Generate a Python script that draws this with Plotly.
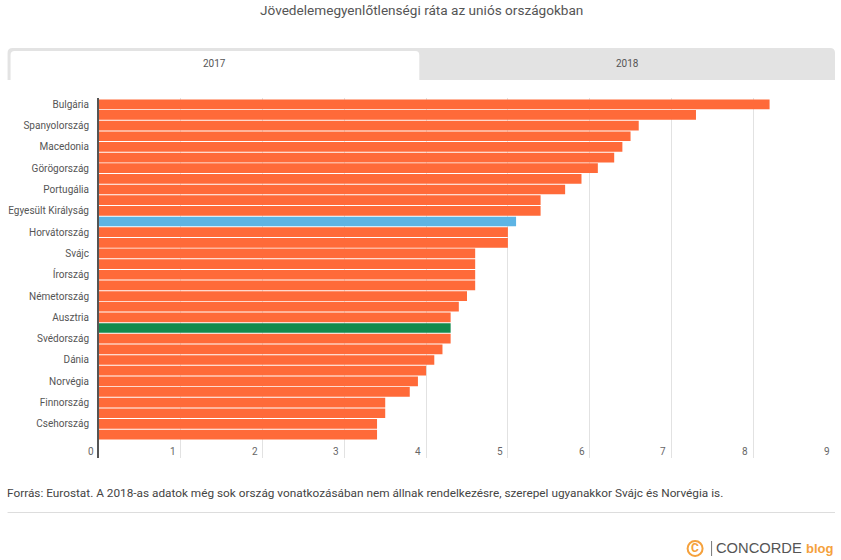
#!/usr/bin/env python3
"""Jövedelemegyenlőtlenségi ráta az uniós országokban"""
import plotly.graph_objects as go

# one row per bar, top to bottom; the chart names only every second bar
ranks = list(range(1, 33))
tick_ranks = ranks[::2]
tick_labels = ['Bulgária', 'Spanyolország', 'Macedonia', 'Görögország', 'Portugália',
               'Egyesült Királyság', 'Horvátország', 'Svájc', 'Írország', 'Németország',
               'Ausztria', 'Svédország', 'Dánia', 'Norvégia', 'Finnország', 'Csehország']
values = [8.2, 7.3, 6.6, 6.5, 6.4, 6.3, 6.1, 5.9, 5.7, 5.4, 5.4, 5.1, 5.0, 5.0, 4.6, 4.6,
          4.6, 4.6, 4.5, 4.4, 4.3, 4.3, 4.3, 4.2, 4.1, 4.0, 3.9, 3.8, 3.5, 3.5, 3.4, 3.4]
x_ticks = [0, 1, 2, 3, 4, 5, 6, 7, 8, 9]

ORANGE = '#ff6a39'
BLUE = '#5db4e4'
GREEN = '#138a4d'
LOGO = '#f5a13c'
colors = [ORANGE] * len(values)
colors[11] = BLUE
colors[21] = GREEN

W, H = 841, 560
LEFT, RIGHT, TOP, BOTTOM = 98.5, 835, 98, 458
FONT = 'Roboto'


# paper coordinates are relative to the plot area
def px(x):
    return (x - LEFT) / (RIGHT - LEFT)


def py(y):
    return (BOTTOM - y) / (BOTTOM - TOP)


def tab_path(x0, x1, y0, y1, r):
    # rectangle with rounded top corners
    return (f'M {px(x0)} {py(y1)} L {px(x0)} {py(y0 + r)} '
            f'Q {px(x0)} {py(y0)} {px(x0 + r)} {py(y0)} '
            f'L {px(x1 - r)} {py(y0)} Q {px(x1)} {py(y0)} {px(x1)} {py(y0 + r)} '
            f'L {px(x1)} {py(y1)} Z')


fig = go.Figure()
fig.add_trace(go.Bar(
    x=values,
    y=ranks,
    orientation='h',
    marker=dict(color=colors, line=dict(width=0)),
    hoverinfo='x+y',
))

annotations = []


def text(x, y, s, size, color='#555555', anchor='center', family=FONT):
    annotations.append(dict(
        xref='paper', yref='paper', x=px(x), y=py(y), text=s, showarrow=False,
        xanchor=anchor, yanchor='middle',
        font=dict(family=family, size=size, color=color),
    ))


text(421, 10, 'Jövedelemegyenlőtlenségi ráta az uniós országokban', 13.6)
text(214, 64, '2017', 10)
text(627, 64, '2018', 10)
text(4, 493, 'Forrás: Eurostat. A 2018-as adatok még sok ország vonatkozásában nem állnak '
             'rendelkezésre, szerepel ugyanakkor Svájc és Norvégia is.', 11.8, '#444444', 'left')
text(714, 548, 'CONCORDE', 14.7, '#555555', 'left', 'Liberation Sans')
text(804, 548.5, '<b>blog</b>', 13, LOGO, 'left', 'Liberation Sans')
text(695, 548, '<b>C</b>', 12, LOGO)

# tick labels sit left of their gridlines, inside the plot
for t in x_ticks:
    annotations.append(dict(
        xref='x', yref='paper', x=t, y=py(451), text=str(t), showarrow=False,
        xanchor='right', yanchor='middle', xshift=-3,
        font=dict(family=FONT, size=10, color='#666666'),
    ))

shapes = [
    # tabs
    dict(type='path', xref='paper', yref='paper', path=tab_path(7, 835, 48, 80, 5),
         fillcolor='#e3e3e3', line_width=0, layer='below'),
    dict(type='path', xref='paper', yref='paper', path=tab_path(10, 419, 51, 80, 4),
         fillcolor='#ffffff', line_width=0, layer='below'),
    # footer rule
    dict(type='line', xref='paper', yref='paper', x0=px(7), x1=px(835), y0=py(512.5), y1=py(512.5),
         line=dict(color='#dddddd', width=1)),
    # logo ring and divider
    dict(type='circle', xref='paper', yref='paper', x0=px(687.5), x1=px(702.5), y0=py(556), y1=py(541),
         line=dict(color=LOGO, width=2)),
    dict(type='line', xref='paper', yref='paper', x0=px(711.5), x1=px(711.5), y0=py(556), y1=py(541),
         line=dict(color='#777777', width=1)),
]

fig.update_layout(
    width=W,
    height=H,
    margin=dict(l=LEFT, r=W - RIGHT, t=TOP, b=H - BOTTOM),
    paper_bgcolor='white',
    plot_bgcolor='white',
    bargap=0.09,
    showlegend=False,
    font=dict(family=FONT),
    annotations=annotations,
    shapes=shapes,
)
fig.update_xaxes(
    range=[0, 9],
    tickvals=x_ticks,
    showticklabels=False,
    showgrid=True,
    gridcolor='#e2e2e2',
    gridwidth=1,
    zeroline=False,
    showline=False,
)
fig.update_yaxes(
    range=[34.2, 0.41],
    tickvals=tick_ranks,
    ticktext=tick_labels,
    ticks='',
    ticklabelstandoff=6,
    tickfont=dict(family=FONT, size=10, color='#555555'),
    showgrid=False,
    zeroline=False,
    showline=True,
    linecolor='#555555',
    linewidth=2,
)

fig.write_html('out.html', config=dict(displayModeBar=False),
               post_script="document.body.style.margin='0';")
